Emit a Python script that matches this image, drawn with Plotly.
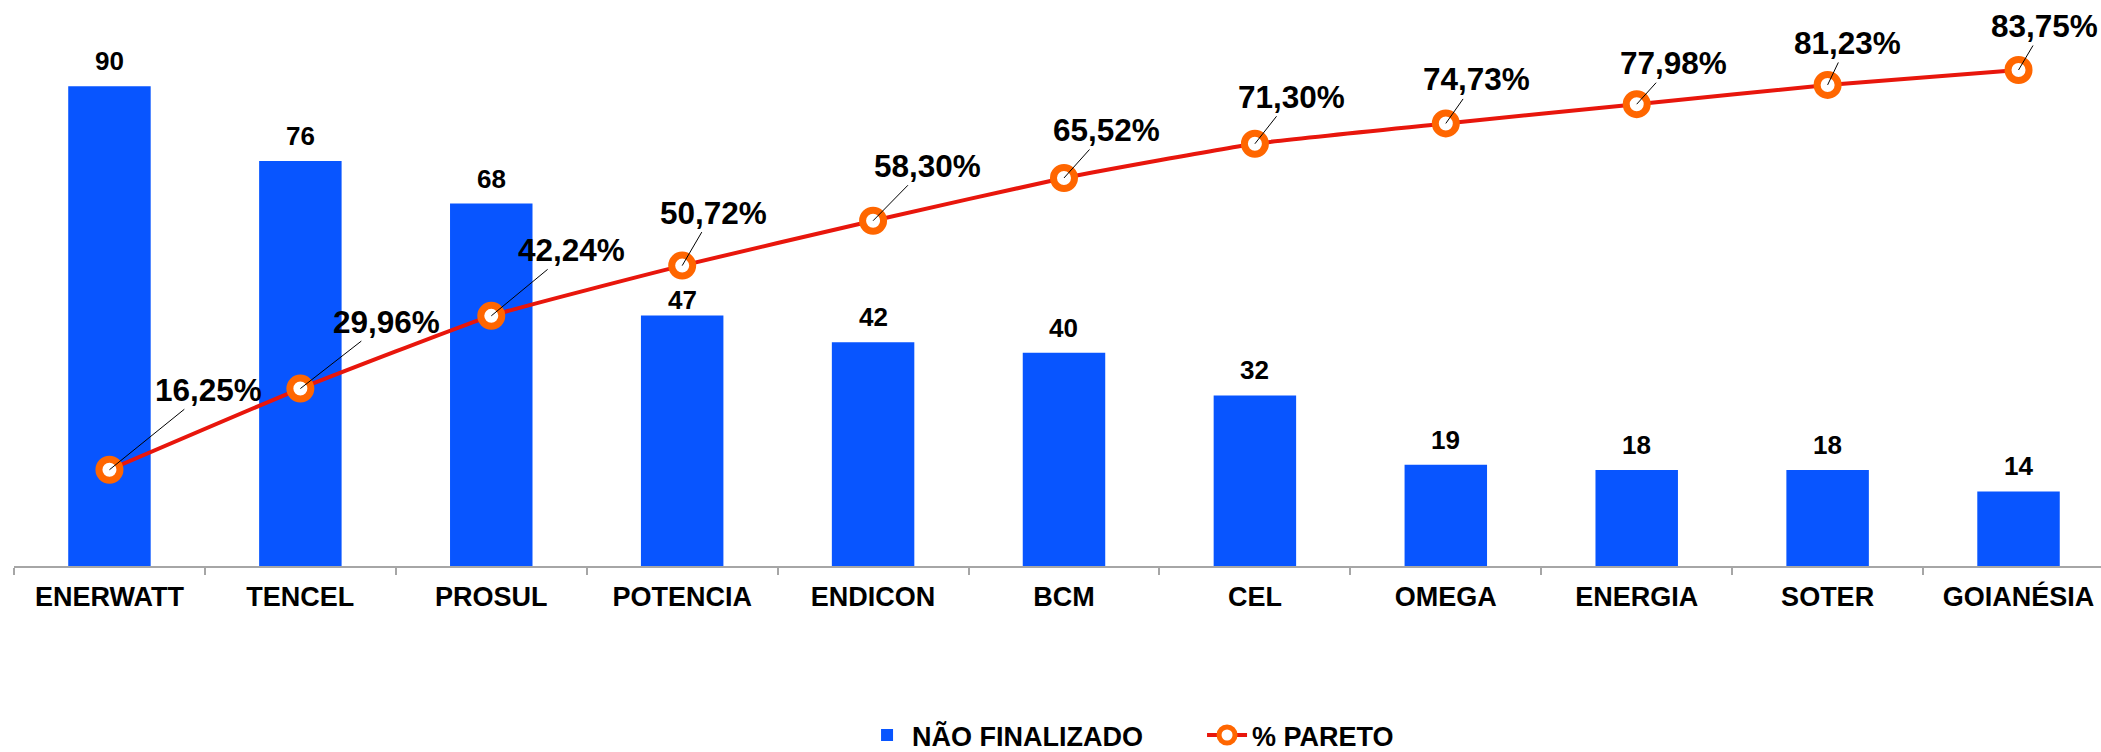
import plotly.graph_objects as go

categories = ["ENERWATT", "TENCEL", "PROSUL", "POTENCIA", "ENDICON", "BCM",
              "CEL", "OMEGA", "ENERGIA", "SOTER", "GOIANÉSIA"]
nao_finalizado = [90, 76, 68, 47, 42, 40, 32, 19, 18, 18, 14]
pareto_pct = [16.25, 29.96, 42.24, 50.72, 58.30, 65.52, 71.30, 74.73, 77.98, 81.23, 83.75]

# label placement (pixels) for the pareto labels: style only
pct_label_offsets = [(99, -80), (86, -67), (80, -66), (31, -53), (54, -55), (43, -48),
                     (37, -47), (31, -44), (37, -41), (20, -42), (26, -44)]
# vertical nudge (pixels) for the bar value labels: style only
bar_label_shift = [8, 8, 8, -2, 8, 8, 8, 8, 8, 8, 8]

FONT = "Liberation Sans, Arial, sans-serif"
BAR_COLOR = "#0855FF"
LINE_COLOR = "#E8160C"
MARKER_COLOR = "#FF6600"

fig = go.Figure()
fig.add_trace(go.Bar(
    x=categories, y=nao_finalizado, name="NÃO FINALIZADO",
    marker=dict(color=BAR_COLOR, line=dict(width=0)),
    yaxis="y",
))
fig.add_trace(go.Scatter(
    x=categories, y=pareto_pct, name="% PARETO", mode="lines+markers",
    line=dict(color=LINE_COLOR, width=4, shape="spline", smoothing=0.4),
    marker=dict(size=21, color="white", line=dict(color=MARKER_COLOR, width=7)),
    yaxis="y2",
))

annotations = []
for c, v, s in zip(categories, nao_finalizado, bar_label_shift):
    annotations.append(dict(
        x=c, y=v, xref="x", yref="y", text=f"{v}", showarrow=False,
        yanchor="bottom", yshift=s,
        font=dict(family=FONT, size=26, color="black", weight="bold"),
    ))
for c, p, (ax, ay) in zip(categories, pareto_pct, pct_label_offsets):
    annotations.append(dict(
        x=c, y=p, xref="x", yref="y2", text=f"{p:.2f}".replace(".", ",") + "%",
        showarrow=True, arrowhead=0, arrowwidth=1, arrowcolor="black",
        ax=ax, ay=ay, standoff=0,
        font=dict(family=FONT, size=31.5, color="black", weight="bold"),
    ))

fig.update_layout(
    width=2101, height=752,
    margin=dict(l=14, r=0, t=33, b=186, autoexpand=False),
    paper_bgcolor="white", plot_bgcolor="white",
    font=dict(family=FONT, color="black"),
    bargap=0.568,
    showlegend=True,
    legend=dict(
        orientation="h", xref="container", yref="container",
        x=0.4103, xanchor="left", y=0.022, yanchor="middle",
        font=dict(family=FONT, size=27, color="black", weight="bold"),
        itemwidth=40, entrywidth=285, traceorder="normal",
    ),
    xaxis=dict(
        type="category", range=[-0.5, 10.432], automargin=False,
        showline=True, linecolor="#A6A6A6", linewidth=2,
        ticks="outside", tickson="boundaries", ticklen=7, tickcolor="#A6A6A6", tickwidth=2,
        ticklabelstandoff=6,
        tickfont=dict(family=FONT, size=27, color="black", weight="bold"),
        showgrid=False, zeroline=False,
    ),
    yaxis=dict(range=[0, 100], visible=False, showgrid=False, zeroline=False),
    yaxis2=dict(range=[0, 90], overlaying="y", side="right", visible=False,
                showgrid=False, zeroline=False),
    annotations=annotations,
)

fig.write_html("out.html", config={"displayModeBar": False},
               post_script="document.body.style.margin='0';")
